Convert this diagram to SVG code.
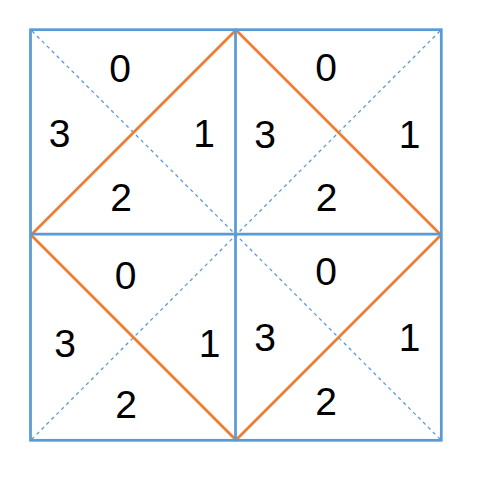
<svg xmlns="http://www.w3.org/2000/svg" width="480" height="480" viewBox="0 0 480 480">
<style>
.diag{stroke:#5B9BD5;stroke-width:1.3;stroke-dasharray:3.5 3.5;fill:none}
.grid{stroke:#5B9BD5;stroke-width:2.75;fill:none}
.dia{stroke:#ED7D31;stroke-width:2.75;fill:none;stroke-linejoin:miter}
text{font-family:"Liberation Sans",Arial,sans-serif;font-size:39px;fill:#000;text-anchor:middle}
</style>
<rect width="480" height="480" fill="#fff"/>
<g id="diagonals">
<line class="diag" x1="32" y1="31" x2="440" y2="439"/>
<line class="diag" x1="440" y1="31" x2="32" y2="439"/>
</g>
<g id="diamond">
<polygon class="dia" points="236,30 441,235 236,440 31,235"/>
</g>
<g id="grid">
<rect class="grid" x="30.5" y="29.7" width="410.8" height="410.6"/>
<line class="grid" x1="235.5" y1="29.7" x2="235.5" y2="440.3"/>
<line class="grid" x1="30.5" y1="234" x2="441.3" y2="234"/>
</g>
<g id="labels">
<text x="120" y="81.5">0</text>
<text x="59.5" y="147.3">3</text>
<text x="204" y="147.3">1</text>
<text x="121" y="210.7">2</text>
<text x="326" y="81">0</text>
<text x="265" y="148.3">3</text>
<text x="409.5" y="148.3">1</text>
<text x="326.5" y="210.7">2</text>
<text x="125.5" y="289.3">0</text>
<text x="65" y="357.3">3</text>
<text x="209.5" y="357">1</text>
<text x="126" y="418.3">2</text>
<text x="326" y="285">0</text>
<text x="265" y="351">3</text>
<text x="409.5" y="351">1</text>
<text x="326" y="415">2</text>
</g>
</svg>
